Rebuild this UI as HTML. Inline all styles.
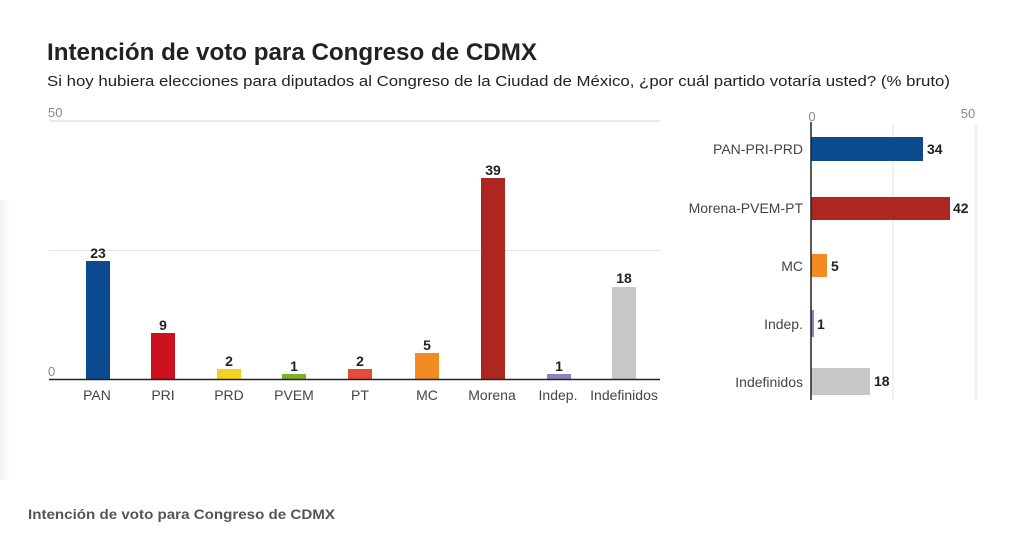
<!DOCTYPE html>
<html><head><meta charset="utf-8"><style>
html,body{margin:0;padding:0;background:#fff;width:1024px;height:547px;overflow:hidden}
text{font-family:"Liberation Sans",sans-serif}
</style></head><body>
<svg width="1024" height="547" viewBox="0 0 1024 547" xmlns="http://www.w3.org/2000/svg">
<defs><linearGradient id="sh" x1="0" x2="1"><stop offset="0" stop-color="#f0f0f0"/><stop offset="1" stop-color="#fff"/></linearGradient></defs>
<rect x="0" y="200" width="10" height="280" fill="url(#sh)"/>
<text x="47" y="60" font-size="24" font-weight="bold" fill="#222" textLength="490" lengthAdjust="spacingAndGlyphs">Intención de voto para Congreso de CDMX</text>
<text x="47" y="86" font-size="15" fill="#222" textLength="903" lengthAdjust="spacingAndGlyphs">Si hoy hubiera elecciones para diputados al Congreso de la Ciudad de México, ¿por cuál partido votaría usted? (% bruto)</text>
<line x1="49" y1="121" x2="660" y2="121" stroke="#e2e2e2" stroke-width="1.5"/>
<line x1="49" y1="250.5" x2="660" y2="250.5" stroke="#e2e2e2" stroke-width="1"/>
<text x="48" y="117" font-size="13" fill="#888">50</text>
<text x="48" y="376" font-size="13" fill="#888">0</text>
<g font-size="14" font-weight="bold" fill="#222" text-anchor="middle">
<rect x="86" y="261" width="24" height="118" fill="#0c4a8f"/><text x="98" y="258">23</text>
<rect x="151" y="333" width="24" height="46" fill="#cc1120"/><text x="163" y="330">9</text>
<rect x="217" y="369" width="24" height="10" fill="#f3d320"/><text x="229" y="366">2</text>
<rect x="282" y="374" width="24" height="5" fill="#7fb02a"/><text x="294" y="371">1</text>
<rect x="348" y="369" width="24" height="10" fill="#e54b3b"/><text x="360" y="366">2</text>
<rect x="415" y="353" width="24" height="26" fill="#f28c22"/><text x="427" y="350">5</text>
<rect x="481" y="178" width="24" height="201" fill="#ad2620"/><text x="493" y="175">39</text>
<rect x="547" y="374" width="24" height="5" fill="#8c82c0"/><text x="559" y="371">1</text>
<rect x="612" y="287" width="24" height="92" fill="#c8c8c8"/><text x="624" y="283">18</text>
</g>
<line x1="49" y1="379.5" x2="660" y2="379.5" stroke="#222" stroke-width="1.5"/>
<g font-size="14" fill="#444" text-anchor="middle">
<text x="97" y="400">PAN</text><text x="163" y="400">PRI</text><text x="229" y="400">PRD</text>
<text x="294" y="400">PVEM</text><text x="360" y="400">PT</text><text x="427" y="400">MC</text>
<text x="492" y="400">Morena</text><text x="558" y="400">Indep.</text><text x="624" y="400">Indefinidos</text>
</g>
<line x1="893" y1="125" x2="893" y2="400" stroke="#e2e2e2"/>
<line x1="976" y1="125" x2="976" y2="400" stroke="#e2e2e2"/>
<text x="812" y="121" font-size="13" fill="#888" text-anchor="middle">0</text>
<text x="968" y="118" font-size="13" fill="#888" text-anchor="middle">50</text>
<g font-size="14" font-weight="bold" fill="#222">
<rect x="811" y="137" width="112" height="24" fill="#0c4a8f"/><text x="927" y="154">34</text>
<rect x="811" y="197" width="139" height="23" fill="#ad2620"/><text x="953" y="213">42</text>
<rect x="811" y="254" width="16" height="23" fill="#f28c22"/><text x="831" y="271">5</text>
<rect x="811" y="310" width="3" height="27" fill="#8c82c0"/><text x="817" y="329">1</text>
<rect x="811" y="368" width="59" height="27" fill="#c8c8c8"/><text x="874" y="386">18</text>
</g>
<line x1="811" y1="122" x2="811" y2="400" stroke="#222" stroke-width="1.5"/>
<g font-size="14" fill="#444" text-anchor="end">
<text x="803" y="154">PAN-PRI-PRD</text><text x="803" y="213">Morena-PVEM-PT</text>
<text x="803" y="271">MC</text><text x="803" y="329">Indep.</text><text x="803" y="387">Indefinidos</text>
</g>
<text x="28" y="519" font-size="14" font-weight="bold" fill="#555" textLength="307" lengthAdjust="spacingAndGlyphs">Intención de voto para Congreso de CDMX</text>
</svg>
</body></html>
